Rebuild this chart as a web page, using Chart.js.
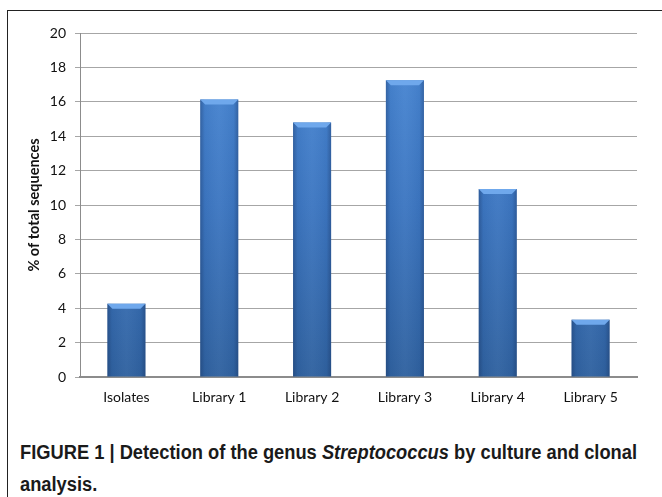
<!DOCTYPE html>
<html><head><meta charset="utf-8">
<script src="https://cdn.jsdelivr.net/npm/chart.js@4.4.0/dist/chart.umd.min.js"></script>
<style>
html,body{margin:0;padding:0;background:#fff;width:662px;height:497px;overflow:hidden}
#frame{position:absolute;left:7px;top:10px;width:700px;height:500px;border:1px solid #222;box-sizing:border-box}
#wrap{position:absolute;left:0;top:0;width:662px;height:420px}
#cap{position:absolute;left:20px;top:436px;font-family:"Liberation Sans",Arial,sans-serif;font-weight:bold;font-size:20px;line-height:32px;color:#1a1a1a;white-space:nowrap;transform-origin:0 0}
</style></head>
<body>
<div id="frame"></div>
<div id="wrap"><canvas id="c" width="662" height="420"></canvas></div>
<div id="cap">FIGURE 1 | Detection of the genus <i>Streptococcus</i> by culture and clonal<br>analysis.</div>
<script>
const categories = ["Isolates","Library 1","Library 2","Library 3","Library 4","Library 5"];
const values = [4.26, 16.13, 14.8, 17.26, 10.93, 3.33];
const yTicks = [0,2,4,6,8,10,12,14,16,18,20];

(function(){const cap=document.getElementById('cap');const w=cap.getBoundingClientRect().width;cap.style.transform='scaleX('+(617/w)+')';})();

const bevel = {
  id:'bevel',
  afterDatasetsDraw(chart){
    const ctx = chart.ctx;
    chart.getDatasetMeta(0).data.forEach(el=>{
      const w = el.width, l = el.x - w/2, r = el.x + w/2, t = el.y, b = el.base;
      ctx.save();
      const hg = ctx.createLinearGradient(l,0,r,0);
      hg.addColorStop(0,'rgba(20,40,80,0.35)');
      hg.addColorStop(0.12,'rgba(20,40,80,0.05)');
      hg.addColorStop(0.5,'rgba(255,255,255,0.04)');
      hg.addColorStop(0.88,'rgba(20,40,80,0.05)');
      hg.addColorStop(1,'rgba(20,40,80,0.35)');
      ctx.fillStyle = hg;
      ctx.fillRect(l,t,w,b-t);
      const bh = 5;
      ctx.beginPath();
      ctx.moveTo(l,t); ctx.lineTo(r,t); ctx.lineTo(r-bh,t+bh); ctx.lineTo(l+bh,t+bh); ctx.closePath();
      ctx.fillStyle = '#6fa8ec';
      ctx.fill();
      ctx.restore();
    });
  }
};

new Chart(document.getElementById('c'),{
  type:'bar',
  data:{labels:categories,datasets:[{data:values,
    backgroundColor:(c)=>{
      const ca=c.chart.chartArea; if(!ca) return '#3b76c2';
      const g=c.chart.ctx.createLinearGradient(0,ca.top,0,ca.bottom);
      g.addColorStop(0,'#4a89d6'); g.addColorStop(0.5,'#3c76c1'); g.addColorStop(1,'#2f619f');
      return g;
    },
    borderWidth:0,categoryPercentage:1,barPercentage:0.41}]},
  plugins:[bevel],
  options:{
    responsive:false,animation:false,
    layout:{padding:{left:22,right:25,top:33,bottom:0}},
    plugins:{legend:{display:false},tooltip:{enabled:false}},
    scales:{
      x:{grid:{display:false,drawTicks:false},border:{color:'#8c8c8c',width:2},
        ticks:{color:'#111',font:{family:'Lato',size:14},padding:12},
        afterFit:s=>{s.height=43;}},
      y:{min:0,max:20,afterBuildTicks:s=>{s.ticks=yTicks.map(v=>({value:v}));},
        grid:{color:'#a6a6a6',lineWidth:1,tickLength:5},border:{color:'#8c8c8c',width:1},
        ticks:{color:'#111',font:{family:'Lato',size:14},padding:9},
        title:{display:true,text:'% of total sequences',color:'#111',font:{family:'Lato',size:14.5,weight:'bold'},padding:{bottom:2}},
        afterFit:s=>{s.width=58;}}
    }
  }
});
</script>
</body></html>
